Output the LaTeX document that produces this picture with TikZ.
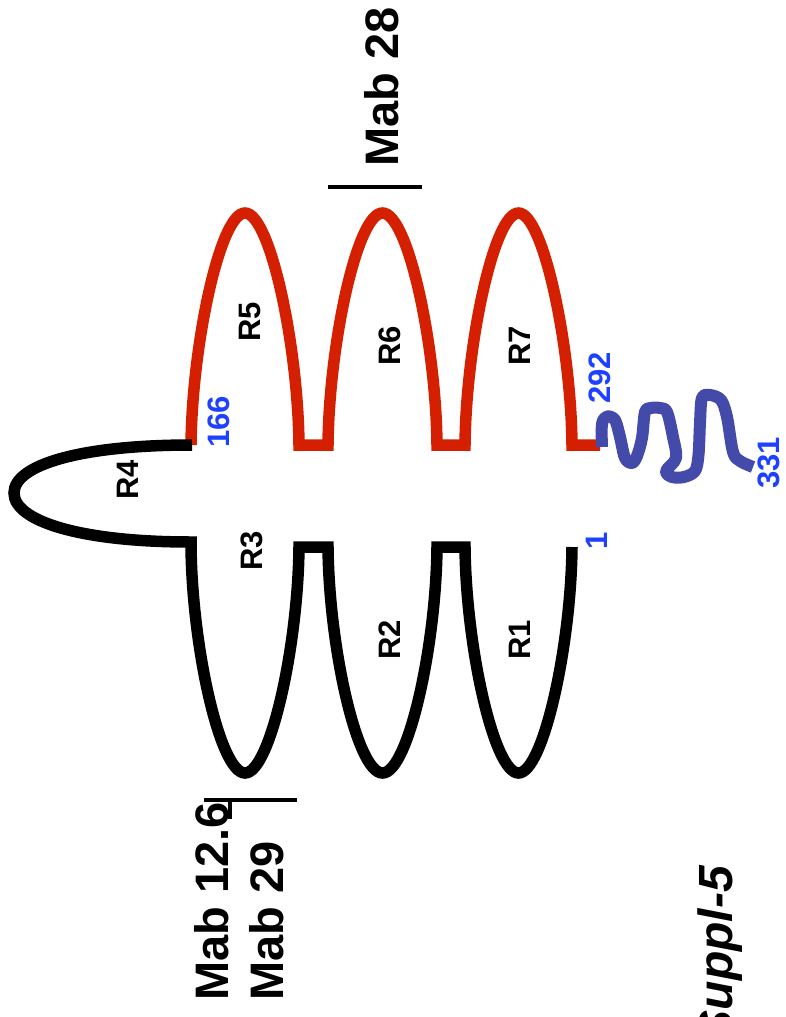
\documentclass[tikz,border=0pt]{standalone}
\usepackage{fontspec}
\setmainfont{Liberation Sans}
\definecolor{loopred}{RGB}{212,32,0}
\definecolor{numblue}{RGB}{30,64,255}
\definecolor{tailblue}{RGB}{68,74,170}
\begin{document}
\begin{tikzpicture}[x=1pt,y=-1pt,
  redline/.style={draw=loopred,line width=11.5pt,line join=miter,line cap=butt},
  blackline/.style={draw=black,line width=11.5pt,line join=miter,line cap=butt},
  tailline/.style={draw=tailblue,line width=12pt,line join=round,line cap=butt},
  marker/.style={draw=black,line width=4pt},
  rlab/.style={font=\fontsize{31}{31}\selectfont\bfseries,rotate=90,inner sep=0pt},
  nlab/.style={font=\fontsize{31}{31}\selectfont\bfseries,text=numblue,rotate=90,inner sep=0pt},
  mlab/.style={font=\fontsize{47}{47}\selectfont\bfseries,rotate=90,inner sep=0pt,anchor=base west},
  slab/.style={font=\fontsize{48}{48}\selectfont\bfseries\itshape,rotate=90,inner sep=0pt,anchor=base east}]
\useasboundingbox (0,0) rectangle (786,1017);
% key points
\coordinate (red0) at (191,445);
\coordinate (redend) at (600,445);
\coordinate (nterm) at (572,547);
% red repeats R5-R7
\draw[redline] (red0) .. controls (192,345) and (220,213) .. (245,213)
  .. controls (270,213) and (298,345) .. (299,445) -- (328,445)
  .. controls (329,345) and (357,213) .. (382.5,213)
  .. controls (408,213) and (436,345) .. (437,445) -- (465,445)
  .. controls (466,345) and (494,213) .. (518.5,213)
  .. controls (543,213) and (571,345) .. (572,445) -- (redend);
% black repeats R4, R3-R1
\draw[blackline] (192,445) .. controls (80,445) and (14,465) .. (14,493)
  .. controls (14,521) and (80,542) .. (191,542) -- (191,546)
  .. controls (192,647) and (220,773) .. (245,773)
  .. controls (270,773) and (298,647) .. (299,547) -- (328,547)
  .. controls (329,647) and (357,773) .. (382.5,773)
  .. controls (408,773) and (436,647) .. (437,547) -- (465,547)
  .. controls (466,647) and (494,773) .. (518.5,773)
  .. controls (543,773) and (571,647) .. (nterm);
% C-terminal tail
\draw[tailline] plot[smooth,tension=0.55] coordinates {
  (602,447) (602,424) (607,416.5) (615,420) (620,437) (625,458) (632,463)
  (637,456) (642,438) (645,412) (651,408) (660,408) (667,412) (673,437)
  (676,458) (666,471) (672,477) (684,477) (695,471) (698.5,455) (700,423)
  (702,398) (710,395) (721,400) (727,417) (733,452) (740,461) (753,467)};
% epitope markers
\coordinate (m28a) at (328,187);
\coordinate (m28b) at (422,187);
\draw[marker] (m28a) -- (m28b);
\coordinate (m126a) at (204,800);
\coordinate (m126b) at (297,800);
\coordinate (m126c) at (230,819);
\draw[marker] (m126a) -- (m126b);
\draw[marker] (230,798) -- (m126c);
% repeat labels
\node[rlab] (r5) at (250,322) {R5};
\node[rlab] (r6) at (390,346) {R6};
\node[rlab] (r7) at (520,346) {R7};
\node[rlab] (r4) at (128,480) {R4};
\node[rlab] (r3) at (251.5,551) {R3};
\node[rlab] (r2) at (390,640) {R2};
\node[rlab] (r1) at (520,640) {R1};
% residue numbers
\node[nlab] (n166) at (219,422) {166};
\node[nlab] (n292) at (600,378) {292};
\node[nlab] (n331) at (769,463) {331};
\node[nlab] (n1) at (597,541) {1};
% antibody labels
\node[mlab] (mab126) at (228,1001) {Mab 12.6};
\node[mlab] (mab29) at (283,1001) {Mab 29};
\node[mlab] (mab28) at (398,167) {Mab 28};
\node[slab] (suppl) at (732,866) {Suppl-5};
\end{tikzpicture}
\end{document}
